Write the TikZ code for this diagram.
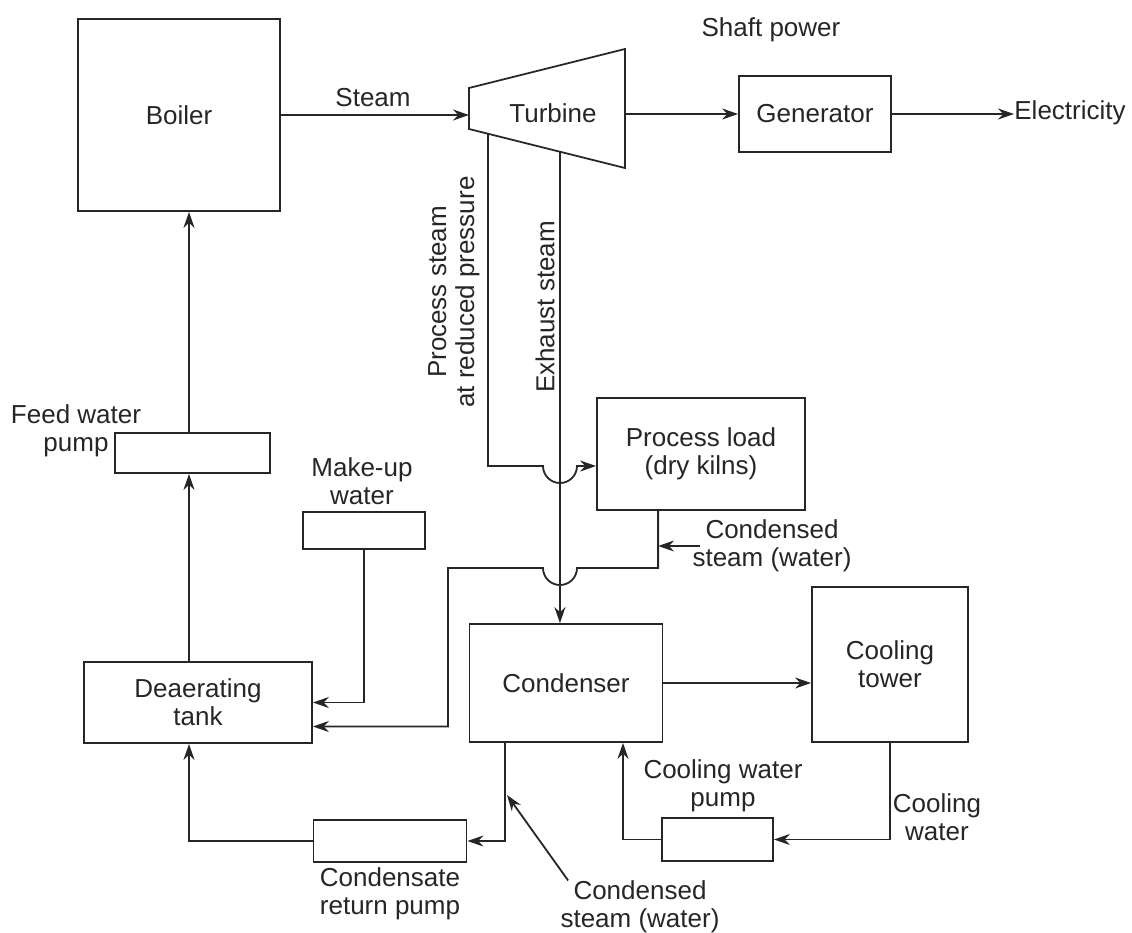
\documentclass[tikz,border=0pt]{standalone}
\usepackage{fontspec}
\setmainfont{Liberation Sans}
\usetikzlibrary{arrows.meta, positioning, calc}

\begin{document}
\begin{tikzpicture}[
    x=0.5pt, y=-0.5pt,
    every node/.append style={font=\fontsize{13}{14}\selectfont, text=black!85},
    block/.style={rectangle, draw=black!85, line width=0.9pt, align=center, inner sep=0pt},
    lbl/.style={align=center, inner sep=0pt},
    arrow/.style={-{Stealth[length=8pt, width=5.5pt]}, draw=black!85, line width=0.9pt},
    line/.style={draw=black!85, line width=0.9pt}
]
\useasboundingbox (0,0) rectangle (1132,933);

% blocks
\node[block, minimum width=101pt, minimum height=96pt] (boiler) at (179,115) {Boiler};
\node[block, minimum width=76pt, minimum height=38pt] (gen) at (815,114) {Generator};
\node[block, minimum width=104pt, minimum height=56pt] (load) at (701,454) {Process load\\(dry kilns)};
\node[block, minimum width=61pt, minimum height=18.5pt] (makeup) at (364,530.5) {};
\node[block, minimum width=77.5pt, minimum height=20pt] (fwp) at (192.5,453) {};
\node[block, minimum width=114pt, minimum height=40.5pt] (dea) at (198,702.5) {Deaerating\\tank};
\node[block, minimum width=96.5pt, minimum height=59pt] (cond) at (566,683) {Condenser};
\node[block, minimum width=78pt, minimum height=77.5pt] (tower) at (890,664.5) {Cooling\\tower};
\node[block, minimum width=55.5pt, minimum height=21.5pt] (cwp) at (717.5,839.5) {};
\node[block, minimum width=76.5pt, minimum height=21pt] (crp) at (390,841) {};

% turbine
\coordinate (t1) at (469,88);
\coordinate (t2) at (469,129);
\coordinate (t3) at (625,168);
\coordinate (t4) at (625,49);
\draw[line] (t1) -- (t2) -- (t3) -- (t4) -- cycle;
\node[lbl] (turb) at (553,113) {Turbine};
\coordinate (ps) at ($(t2)!0.122!(t3)$);
\coordinate (ex) at ($(t2)!0.583!(t3)$);

% labels
\node[lbl] (steam) at (373,98) {Steam};
\node[lbl] (shaft) at (771,30) {Shaft power};
\node[lbl, anchor=west] (elec) at (1014,113) {Electricity};
\node[lbl, rotate=90] (pslbl) at (454,292) {Process steam\\at reduced pressure};
\node[lbl, rotate=90] (exlbl) at (545,307) {Exhaust steam};
\node[lbl] (fwlbl) at (76,431) {Feed water\\pump};
\node[lbl] (mulbl) at (362,481) {Make-up\\water};
\node[lbl] (csa) at (772,546) {Condensed\\steam (water)};
\node[lbl] (cwlbl) at (723,786) {Cooling water\\pump};
\node[lbl] (ctlbl) at (937,817) {Cooling\\water};
\node[lbl] (crlbl) at (390,894) {Condensate\\return pump};
\node[lbl] (csb) at (640,907) {Condensed\\steam (water)};

% crossings and corners
\coordinate (cx1) at (560,466);
\coordinate (cx2) at (560,568);
\coordinate (cl) at (448,568);
\coordinate (fx) at (189,0);
\coordinate (cbx) at (505,0);
\coordinate (cwx) at (623,0);
\coordinate (cstip) at (507,795);

% steam side
\draw[arrow] (boiler.east) -- (boiler.east -| t1);
\draw[arrow] (gen.west -| t3) -- (gen.west);
\draw[arrow] (gen.east) -- (gen.east -| elec.west);
\draw[arrow] (ps) |- ([xshift=-8.5pt]cx1) arc[start angle=180, end angle=360, radius=8.5pt] -- (cx1 -| load.west);
\draw[arrow] (ex) -- (ex |- cond.north);
\draw[arrow] ([xshift=31pt]load.south west) |- ([xshift=8.5pt]cx2) arc[start angle=0, end angle=-180, radius=8.5pt] -- (cl) |- ([yshift=-12pt]dea.east);
\draw[arrow] ([xshift=4pt]csa.west) -- ([xshift=31pt]load.south west |- csa.west);

% water side
\draw[arrow] (makeup.south) |- (dea.east);
\draw[arrow] (dea.north -| fx) -- (fwp.south -| fx);
\draw[arrow] (fwp.north -| fx) -- (boiler.south -| fx);
\draw[arrow] (cond.east) -- (cond.east -| tower.west);
\draw[arrow] (cond.south -| cbx) |- (crp.east);
\draw[arrow] (crp.west) -| (dea.south -| fx);
\draw[arrow] (tower.south) |- (cwp.east);
\draw[arrow] (cwp.west) -| (cond.south -| cwx);
\draw[arrow] ([xshift=4pt]csb.north west) -- (cstip);

\end{tikzpicture}
\end{document}
